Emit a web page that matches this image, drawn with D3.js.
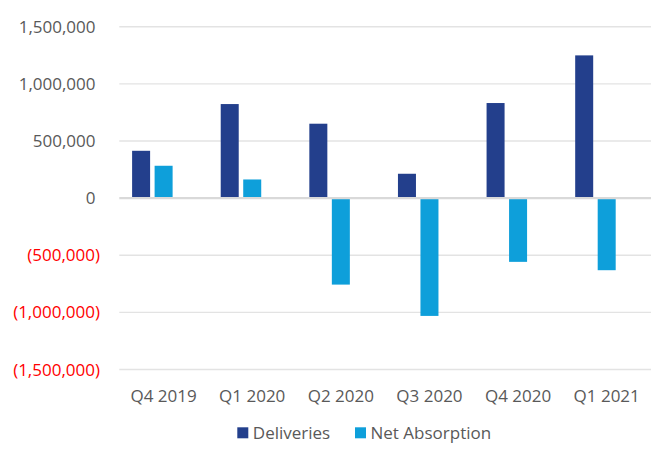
<!DOCTYPE html>
<html><head><meta charset="utf-8">
<script src="https://cdn.jsdelivr.net/npm/d3@7"></script>
<style>html,body{margin:0;padding:0;background:#fff;}svg{display:block;font-family:"Open Sans",sans-serif;}</style>
</head><body>
<svg id="c" width="661" height="455"></svg>
<script>
const categories = ["Q4 2019","Q1 2020","Q2 2020","Q3 2020","Q4 2020","Q1 2021"];
const seriesNames = ["Deliveries","Net Absorption"];
const deliveries = [414000, 823000, 651000, 213000, 832000, 1249000];
const netAbsorption = [283000, 163000, -757000, -1031000, -558000, -631000];
const yTicks = [1500000, 1000000, 500000, 0, -500000, -1000000, -1500000];
const colors = ["#233F8C", "#0E9FDA"];

const svg = d3.select("#c");
const plotLeft = 119.3, plotRight = 651, plotTop = 26.7, plotBottom = 369.5;
const fontSize = 17;

const y = d3.scaleLinear().domain([-1500000, 1500000]).range([plotBottom, plotTop]);
const x0 = d3.scaleBand().domain(categories).range([plotLeft, plotRight]).paddingInner(0).paddingOuter(0);
// Excel-like cluster with 3 slots (third slot empty)
const x1 = d3.scaleBand().domain([0,1,2]).range([0, x0.bandwidth()]).paddingInner(0.2).paddingOuter(0.569);

const fmt = d3.format(",");
// gridlines
svg.append("g").selectAll("line").data(yTicks.filter(d => d !== 0)).join("line")
  .attr("x1", plotLeft).attr("x2", plotRight)
  .attr("y1", d => y(d)).attr("y2", d => y(d))
  .attr("stroke", "#e3e3e3").attr("stroke-width", 1.4);

// y labels
svg.append("g").selectAll("text").data(yTicks).join("text")
  .attr("x", d => d < 0 ? 100 : 95.5)
  .attr("y", d => y(d))
  .attr("dy", "0.36em")
  .attr("text-anchor", "end")
  .attr("font-size", fontSize)
  .attr("fill", d => d < 0 ? "#FF0000" : "#595959")
  .text(d => d < 0 ? "(" + fmt(-d) + ")" : fmt(d));

const series = [deliveries, netAbsorption];
const g = svg.append("g");
series.forEach((vals, si) => {
  g.append("g").selectAll("rect").data(vals).join("rect")
    .attr("x", (d, i) => x0(categories[i]) + x1(si))
    .attr("width", x1.bandwidth())
    .attr("y", d => y(Math.max(0, d)))
    .attr("height", d => Math.abs(y(d) - y(0)))
    .attr("fill", colors[si]);
});

// zero line
svg.append("line").attr("x1", plotLeft).attr("x2", plotRight)
  .attr("y1", y(0)).attr("y2", y(0))
  .attr("stroke", "#d9d9d9").attr("stroke-width", 2.4);

// x labels
svg.append("g").selectAll("text").data(categories).join("text")
  .attr("x", d => x0(d) + x0.bandwidth() / 2)
  .attr("y", 401.5)
  .attr("text-anchor", "middle")
  .attr("font-size", fontSize)
  .attr("fill", "#595959")
  .text(d => d);

// legend
const legX = [237.3, 355];
const leg = svg.append("g");
seriesNames.forEach((name, i) => {
  leg.append("rect").attr("x", legX[i]).attr("y", 427.3).attr("width", 11).attr("height", 11).attr("fill", colors[i]);
  leg.append("text").attr("x", legX[i] + 15.5).attr("y", 438.8)
    .attr("font-size", fontSize).attr("fill", "#595959").text(name);
});
</script>
</body></html>
